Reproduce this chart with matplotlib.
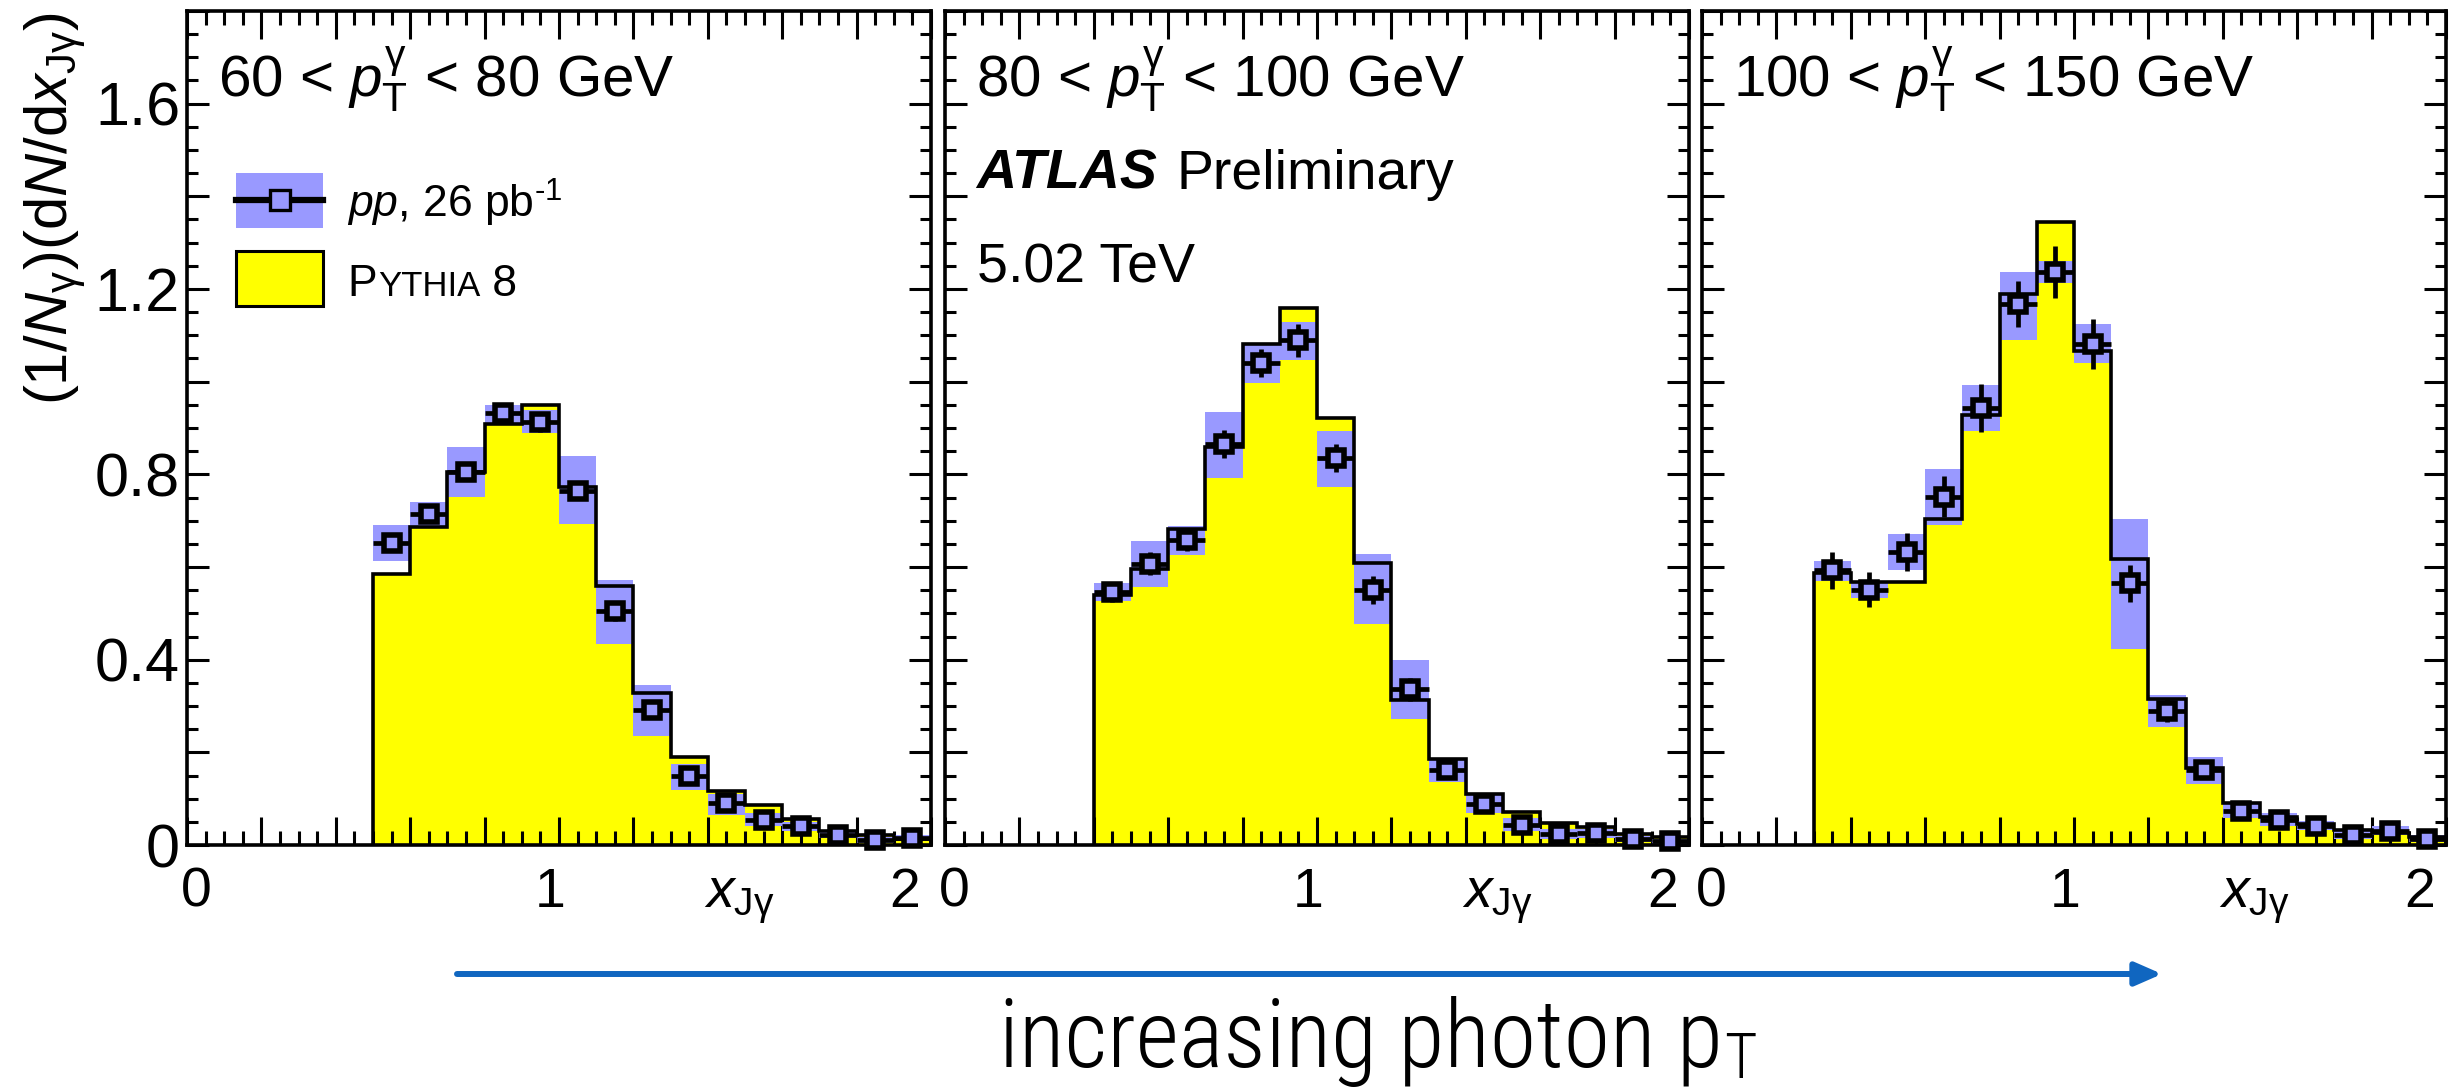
import numpy as np
import matplotlib
matplotlib.use('Agg')
import matplotlib.pyplot as plt
from matplotlib import font_manager as fm
from matplotlib.ticker import MultipleLocator, FuncFormatter
from matplotlib.transforms import blended_transform_factory
from matplotlib.patches import Rectangle, FancyArrowPatch
from matplotlib.lines import Line2D

# ---------------- data ----------------
panel_titles = [r'60 < $p_{\mathrm{T}}^{\mathrm{\gamma}}$ < 80 GeV',
                r'80 < $p_{\mathrm{T}}^{\mathrm{\gamma}}$ < 100 GeV',
                r'100 < $p_{\mathrm{T}}^{\mathrm{\gamma}}$ < 150 GeV']

edges1 = [0.5, 0.6, 0.7, 0.8, 0.9, 1.0, 1.1, 1.2, 1.3, 1.4, 1.5, 1.6, 1.7, 1.8, 1.9, 2.0]
data1 = [0.652, 0.715, 0.806, 0.933, 0.912, 0.765, 0.504, 0.291, 0.148, 0.091, 0.055, 0.040, 0.022, 0.011, 0.015]
stat1 = [0.02, 0.02, 0.02, 0.02, 0.02, 0.02, 0.02, 0.015, 0.012, 0.01, 0.008, 0.007, 0.006, 0.005, 0.005]
sysup1 = [0.690, 0.740, 0.859, 0.949, 0.939, 0.839, 0.573, 0.345, 0.175, 0.110, 0.068, 0.050, 0.030, 0.018, 0.022]
syslo1 = [0.614, 0.684, 0.752, 0.908, 0.889, 0.692, 0.434, 0.235, 0.118, 0.064, 0.042, 0.030, 0.015, 0.005, 0.008]
pythia1 = [0.585, 0.686, 0.804, 0.908, 0.949, 0.773, 0.560, 0.327, 0.191, 0.116, 0.087, 0.056, 0.031, 0.022, 0.013]

edges2 = [0.4, 0.5, 0.6, 0.7, 0.8, 0.9, 1.0, 1.1, 1.2, 1.3, 1.4, 1.5, 1.6, 1.7, 1.8, 1.9, 2.0]
data2 = [0.545, 0.607, 0.659, 0.866, 1.040, 1.089, 0.835, 0.551, 0.336, 0.161, 0.089, 0.044, 0.024, 0.025, 0.013, 0.008]
stat2 = [0.02, 0.025, 0.025, 0.03, 0.03, 0.035, 0.03, 0.03, 0.025, 0.015, 0.012, 0.01, 0.008, 0.008, 0.006, 0.005]
sysup2 = [0.565, 0.657, 0.688, 0.935, 1.082, 1.128, 0.894, 0.627, 0.400, 0.186, 0.110, 0.058, 0.034, 0.034, 0.020, 0.014]
syslo2 = [0.526, 0.556, 0.625, 0.792, 0.997, 1.047, 0.773, 0.477, 0.271, 0.136, 0.068, 0.030, 0.014, 0.016, 0.006, 0.002]
pythia2 = [0.539, 0.596, 0.683, 0.858, 1.082, 1.160, 0.922, 0.609, 0.313, 0.186, 0.109, 0.071, 0.047, 0.038, 0.024, 0.017]

edges3 = [0.3, 0.4, 0.5, 0.6, 0.7, 0.8, 0.9, 1.0, 1.1, 1.2, 1.3, 1.4, 1.5, 1.6, 1.7, 1.8, 1.9, 2.0]
data3 = [0.593, 0.551, 0.632, 0.752, 0.943, 1.167, 1.237, 1.082, 0.565, 0.290, 0.161, 0.074, 0.054, 0.042, 0.022, 0.031, 0.014]
stat3 = [0.04, 0.038, 0.041, 0.045, 0.052, 0.05, 0.056, 0.054, 0.04, 0.025, 0.018, 0.014, 0.012, 0.01, 0.008, 0.008, 0.006]
sysup3 = [0.614, 0.569, 0.672, 0.811, 0.993, 1.237, 1.260, 1.125, 0.704, 0.323, 0.190, 0.090, 0.068, 0.052, 0.030, 0.040, 0.022]
syslo3 = [0.569, 0.533, 0.593, 0.690, 0.893, 1.090, 1.214, 1.040, 0.423, 0.255, 0.132, 0.058, 0.040, 0.032, 0.014, 0.022, 0.006]
pythia3 = [0.586, 0.567, 0.567, 0.704, 0.928, 1.190, 1.345, 1.067, 0.617, 0.316, 0.167, 0.090, 0.060, 0.045, 0.032, 0.025, 0.017]

xtick_labels = ['0', '1', '2']
xtick_label_pos = [0.025, 0.975, 1.93]

# ---------------- fonts ----------------
def available(name, **kw):
    try:
        return fm.findfont(fm.FontProperties(family=name, **kw), fallback_to_default=False)
    except Exception:
        return None

SANS = 'Liberation Sans' if available('Liberation Sans') else 'DejaVu Sans'

def pick_condensed():
    for fam in ['Liberation Sans Narrow', 'Roboto Condensed', 'Open Sans Condensed']:
        if available(fam):
            return dict(family=fam)
    for fam in ['DejaVu Sans', 'Noto Sans', 'Open Sans', 'Roboto']:
        f = available(fam, stretch='condensed')
        if f and ('ondensed' in f or 'Narrow' in f):
            return dict(family=fam, stretch='condensed')
    return dict(family=SANS)

COND = pick_condensed()

plt.rcParams['font.family'] = [SANS, 'DejaVu Sans']
plt.rcParams['mathtext.fontset'] = 'custom'
plt.rcParams['mathtext.rm'] = SANS
plt.rcParams['mathtext.it'] = SANS + ':italic'
plt.rcParams['mathtext.bf'] = SANS + ':bold'
plt.rcParams['mathtext.sf'] = SANS

YELLOW = '#FFFF00'
BAND = '#9999FF'
ARROW = '#1066C0'

TITLE_FS = 42
ANN_FS = 40
LEG_FS = 32
YTICK_FS = 44
XTICK_FS = 40
XLAB_FS = 40
YLAB_FS = 43

W, H = 2459, 1090
fig = plt.figure(figsize=(W / 100, H / 100), dpi=100)

lefts = [187, 945, 1702]
pw = 744
top_px, bot_px = 11, 845

panels = [
    (edges1, data1, stat1, sysup1, syslo1, pythia1),
    (edges2, data2, stat2, sysup2, syslo2, pythia2),
    (edges3, data3, stat3, sysup3, syslo3, pythia3),
]

def yfmt(v, pos):
    k = int(round(v / 0.2))
    if k % 2:
        return ''
    return '0' if k == 0 else f'{v:.1f}'

axes = []
for i, (edges, data, stat, sup, slo, py) in enumerate(panels):
    ax = fig.add_axes([lefts[i] / W, 1 - bot_px / H, pw / W, (bot_px - top_px) / H])
    axes.append(ax)
    e = np.array(edges)
    centers = 0.5 * (e[:-1] + e[1:])
    widths = np.diff(e)
    sup = np.array(sup); slo = np.array(slo)

    ax.stairs(py, e, baseline=0, fill=True, facecolor=YELLOW, edgecolor='none', zorder=1)
    ax.bar(centers, sup - slo, bottom=slo, width=widths, color=BAND, linewidth=0, zorder=2)
    ax.stairs(py, e, baseline=0, fill=False, edgecolor='black', linewidth=2.6, zorder=3)
    eb = ax.errorbar(centers, data, yerr=stat, xerr=widths / 2, fmt='s', ms=12, mfc=BAND,
                     mec='black', mew=4.0, ecolor='black', elinewidth=3.4, capsize=0, zorder=4)
    for art in eb.lines[2]:
        art.set_clip_on(False)
    eb.lines[0].set_clip_on(False)

    ax.set_xlim(0, 2)
    ax.set_ylim(0, 1.8)
    ax.xaxis.set_major_locator(MultipleLocator(0.2))
    ax.xaxis.set_minor_locator(MultipleLocator(0.05))
    ax.yaxis.set_major_locator(MultipleLocator(0.2))
    ax.yaxis.set_minor_locator(MultipleLocator(0.05))
    ax.tick_params(which='both', direction='in', top=True, right=True, width=2.2,
                   labelbottom=False, labelleft=(i == 0))
    ax.tick_params(axis='x', which='major', length=20)
    ax.tick_params(axis='x', which='minor', length=10)
    ax.tick_params(axis='y', which='major', length=16, labelsize=YTICK_FS, pad=5)
    ax.tick_params(axis='y', which='minor', length=8)
    if i == 0:
        ax.yaxis.set_major_formatter(FuncFormatter(yfmt))
    for s in ax.spines.values():
        s.set_linewidth(2.6)

    bt = blended_transform_factory(ax.transData, ax.transAxes)
    for lab, xp in zip(xtick_labels, xtick_label_pos):
        ax.text(xp, -0.0743, lab, transform=bt, ha='center', va='baseline', fontsize=XTICK_FS)
    ax.text(1.39, -0.0743, r'$x_{\mathrm{J\gamma}}$', transform=bt, ha='left', va='baseline',
            fontsize=XLAB_FS)

    ax.text(0.042, 0.897, panel_titles[i], transform=ax.transAxes, ha='left', va='baseline',
            fontsize=TITLE_FS)

# ATLAS label in panel 2
ax2 = axes[1]
t_atlas = ax2.text(0.0425, 0.787, 'ATLAS', transform=ax2.transAxes, ha='left', va='baseline',
                   fontsize=ANN_FS, fontweight='bold', fontstyle='italic')
ax2.annotate('Preliminary', xy=(1, 0), xycoords=t_atlas, xytext=(14, 0),
             textcoords='offset points', ha='left', va='bottom', fontsize=ANN_FS)
ax2.text(0.0425, 0.674, '5.02 TeV', transform=ax2.transAxes, ha='left', va='baseline',
         fontsize=ANN_FS)

# legend in panel 1
ax1 = axes[0]
ax1.add_patch(Rectangle((0.066, 0.740), 0.117, 0.066, transform=ax1.transAxes,
                        facecolor=BAND, edgecolor='none', zorder=5))
ax1.add_line(Line2D([0.066, 0.183], [0.773, 0.773], transform=ax1.transAxes,
                    color='black', lw=4.5, zorder=6))
ax1.add_line(Line2D([0.1245], [0.773], transform=ax1.transAxes, marker='s', ms=14,
                    mfc=BAND, mec='black', mew=2.4, zorder=7))
ax1.add_patch(Rectangle((0.066, 0.646), 0.117, 0.066, transform=ax1.transAxes,
                        facecolor=YELLOW, edgecolor='black', lw=2.2, zorder=5))
ax1.text(0.215, 0.752, '$pp$, 26 pb$^{\\mathrm{\u20101}}$', transform=ax1.transAxes,
         ha='left', va='baseline', fontsize=LEG_FS)
t_p = ax1.text(0.215, 0.658, 'P', transform=ax1.transAxes, ha='left', va='baseline',
               fontsize=LEG_FS)
t_y = ax1.annotate('YTHIA', xy=(1, 0), xycoords=t_p, xytext=(1, 1.5),
                   textcoords='offset points', ha='left', va='bottom', fontsize=25)
ax1.annotate(' 8', xy=(1, 0), xycoords=t_y, xytext=(0, -1.5),
             textcoords='offset points', ha='left', va='bottom', fontsize=LEG_FS)

# y label
fig.text(55 / W, 1 - 12 / H, r'$(1/N_{\mathrm{\gamma}})(\mathrm{d}N/\mathrm{d}x_{\mathrm{J\gamma}})$',
         rotation=90, ha='center', va='top', fontsize=YLAB_FS)

# bottom arrow and caption
arr = FancyArrowPatch(posA=(457 / W, 1 - 974 / H), posB=(2162 / W, 1 - 974 / H),
                      transform=fig.transFigure, arrowstyle='-|>,head_length=0.8,head_width=0.35',
                      mutation_scale=20, lw=4.3, color=ARROW, shrinkA=0, shrinkB=0)
fig.patches.append(arr)
t_b = fig.text(999 / W, 1 - 1067 / H, 'increasing photon p', ha='left', va='baseline',
               fontsize=68, fontweight='light', **COND)
plt.annotate('T', xy=(1, 0), xycoords=t_b, xytext=(1, -3), textcoords='offset points',
             ha='left', va='bottom', fontsize=45, fontweight='light', annotation_clip=False, **COND)

fig.savefig('out.png', dpi=100)
